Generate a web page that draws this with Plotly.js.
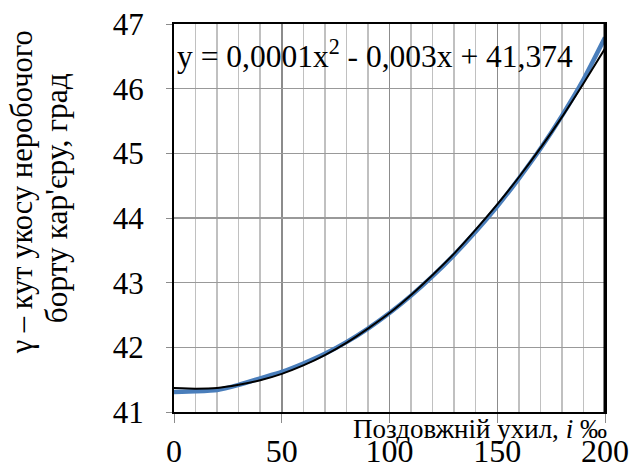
<!DOCTYPE html>
<html>
<head>
<meta charset="utf-8">
<script src="https://cdn.plot.ly/plotly-3.0.1.min.js"></script>
<style>html,body{margin:0;padding:0;background:#fff}#chart{width:633px;height:463px}</style>
</head>
<body>
<div id="chart"></div>
<script>
// Longitudinal slope i, ‰
const slopeX = [0, 10, 20, 30, 40, 50, 60, 70, 80, 90, 100, 110, 120, 130, 140, 150, 160, 170, 180, 190, 200];
// Measured angle γ, degrees (blue series)
const angleData = [41.31, 41.32, 41.34, 41.42, 41.52, 41.62, 41.75, 41.90, 42.08, 42.29, 42.53, 42.80, 43.10, 43.43, 43.79, 44.18, 44.61, 45.07, 45.58, 46.14, 46.79];
// Polynomial trendline (black)
const trendValues = [41.37, 41.36, 41.37, 41.42, 41.49, 41.59, 41.72, 41.88, 42.07, 42.29, 42.53, 42.81, 43.12, 43.45, 43.82, 44.21, 44.63, 45.08, 45.56, 46.08, 46.62];
const xTicks = [0, 50, 100, 150, 200];
const yTicks = [41, 42, 43, 44, 45, 46, 47];
const equationText = 'y = 0,0001x<sup>2</sup> - 0,003x + 41,374';
const xTitle = 'Поздовжній ухил, <i>i</i> ‰';
const yTitleLine1 = 'γ – кут укосу неробочого';
const yTitleLine2 = 'борту кар\'єру, град';

const font = 'Liberation Serif';

const traces = [
  {x: slopeX, y: angleData, mode: 'lines', line: {color: '#4a7ebb', width: 4.5, shape: 'spline', smoothing: 0.5}, hoverinfo: 'none'},
  {x: slopeX, y: trendValues, mode: 'lines', line: {color: '#000000', width: 2, shape: 'spline', smoothing: 0.5}, hoverinfo: 'none'}
];

const layout = {
  width: 633, height: 463,
  margin: {l: 174, r: 28, t: 24, b: 51},
  paper_bgcolor: '#fff', plot_bgcolor: '#fff',
  showlegend: false,
  font: {family: font, color: '#000'},
  xaxis: {
    range: [0, 200], tickvals: xTicks, ticktext: xTicks.map(String),
    showgrid: true, gridcolor: '#8c8c8c', gridwidth: 1.5,
    minor: {dtick: 10, tick0: 0, showgrid: true, gridcolor: '#c0c0c0', gridwidth: 1.5},
    showline: true, linecolor: '#000', linewidth: 2, mirror: true,
    ticks: 'outside', ticklen: 9, tickcolor: '#8c8c8c', tickwidth: 1,
    tickfont: {family: font, size: 32, color: '#000'},
    ticklabelstandoff: 1,
    zeroline: false, fixedrange: true
  },
  yaxis: {
    range: [41, 47], tickvals: yTicks, ticktext: yTicks.map(String),
    showgrid: true, gridcolor: '#999999', gridwidth: 1.5,
    showline: true, linecolor: '#000', linewidth: 2, mirror: true,
    ticks: 'outside', ticklen: 6, tickcolor: '#8c8c8c', tickwidth: 1,
    tickfont: {family: font, size: 31, color: '#000'},
    ticklabelstandoff: 16,
    zeroline: false, fixedrange: true
  },
  shapes: [
    {type: 'line', xref: 'paper', yref: 'paper', x0: 1, x1: 1, y0: 0, y1: 1, line: {color: '#000', width: 3}}
  ],
  annotations: [
    {text: equationText, xref: 'paper', yref: 'paper', x: 0.002, y: 0.922, xanchor: 'left', yanchor: 'middle',
     showarrow: false, font: {family: font, size: 31.5, color: '#000'}},
    {text: xTitle, xref: 'paper', yref: 'paper', x: 1.01, y: -0.045, xanchor: 'right', yanchor: 'middle',
     showarrow: false, font: {family: font, size: 27, color: '#000'}},
    {text: yTitleLine1, xref: 'paper', yref: 'paper', x: -0.352, y: 0.567, xanchor: 'center', yanchor: 'middle', textangle: -90,
     showarrow: false, font: {family: font, size: 30.5, color: '#000'}},
    {text: yTitleLine2, xref: 'paper', yref: 'paper', x: -0.272, y: 0.55, xanchor: 'center', yanchor: 'middle', textangle: -90,
     showarrow: false, font: {family: font, size: 31.5, color: '#000'}}
  ]
};

Plotly.newPlot('chart', traces, layout, {staticPlot: true, displayModeBar: false});
</script>
</body>
</html>
